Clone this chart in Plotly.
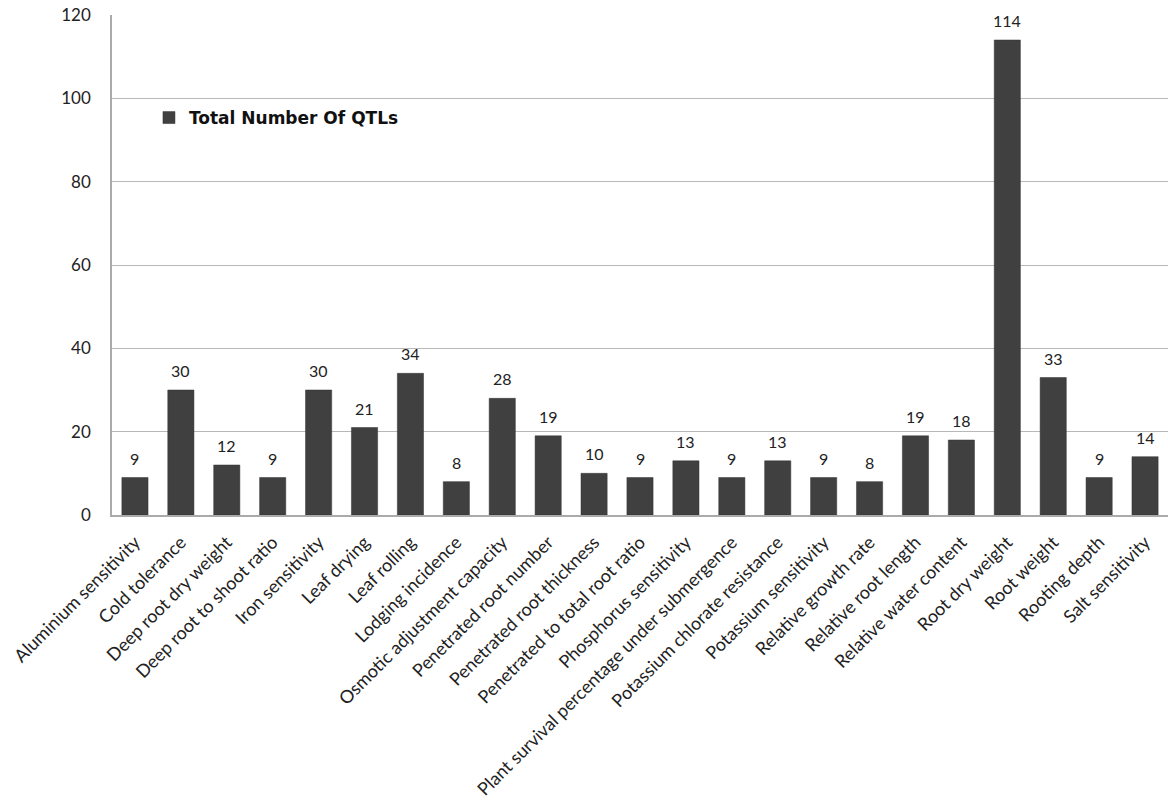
import plotly.graph_objects as go

categories = [
    "Aluminium sensitivity", "Cold tolerance", "Deep root dry weight",
    "Deep root to shoot ratio", "Iron sensitivity", "Leaf drying", "Leaf rolling",
    "Lodging incidence", "Osmotic adjustment capacity", "Penetrated root number",
    "Penetrated root thickness", "Penetrated to total root ratio",
    "Phosphorus sensitivity", "Plant survival percentage under submergence",
    "Potassium chlorate resistance", "Potassium sensitivity", "Relative growth rate",
    "Relative root length", "Relative water content", "Root dry weight",
    "Root weight", "Rooting depth", "Salt sensitivity",
]
qtl_counts = [9, 30, 12, 9, 30, 21, 34, 8, 28, 19, 10, 9, 13, 9, 13, 9, 8, 19, 18, 114, 33, 9, 14]
y_ticks = [0, 20, 40, 60, 80, 100, 120]
series_name = "Total Number Of QTLs"

fig = go.Figure()
fig.add_trace(go.Bar(
    x=categories, y=qtl_counts, name=series_name,
    marker=dict(color="#404040", line=dict(color="#333333", width=0.5)),
))

for cat, val in zip(categories, qtl_counts):
    fig.add_annotation(
        x=cat, y=val, text=str(val), showarrow=False,
        yanchor="bottom", yshift=8,
        font=dict(family="Lato, sans-serif", size=16, color="#222222"),
    )

fig.update_layout(
    width=1168, height=809,
    margin=dict(l=112, r=0, t=15, b=294),
    plot_bgcolor="white", paper_bgcolor="white",
    bargap=0.43,
    showlegend=True,
    legend=dict(
        x=0.035, y=0.83, xanchor="left", yanchor="top",
        font=dict(family="DejaVu Sans, Arial Black, sans-serif", size=17, color="#111111", weight="bold"),
        bgcolor="rgba(0,0,0,0)", itemwidth=30,
    ),
    xaxis=dict(
        tickangle=-45, showline=True, linecolor="#aaaaaa", linewidth=1.5,
        tickfont=dict(family="Lato, sans-serif", size=18, color="#222222"),
        ticks="", showgrid=False,
    ),
    yaxis=dict(
        range=[0, 120], tickvals=y_ticks, showline=True, linecolor="#aaaaaa", linewidth=1.5,
        gridcolor="#b8b8b8", gridwidth=1,
        tickfont=dict(family="Lato, sans-serif", size=17, color="#222222"),
        ticks="", ticklen=0, zeroline=False,
    ),
)
fig.update_yaxes(ticklabelstandoff=16)
fig.update_xaxes(ticklabelstandoff=8)
fig.write_html("out.html")
